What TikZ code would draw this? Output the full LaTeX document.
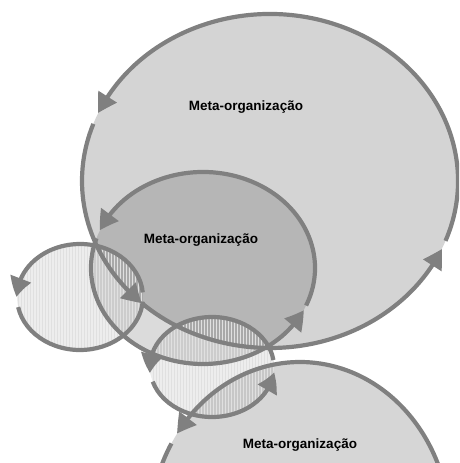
\documentclass[tikz,border=0pt]{standalone}
\usepackage{fontspec}
\setsansfont{Liberation Sans}
\usetikzlibrary{arrows.meta,bending,patterns}

\begin{document}
\begin{tikzpicture}[x=1pt, y=1pt,
        rim/.style={draw=black!50, line width=4.2pt},
        tip/.style={-{Triangle[length=19pt, width=21pt, bend]}},
        lab/.style={font=\sffamily\bfseries\fontsize{13.5}{16}\selectfont, inner sep=0},
        hatch/.style={pattern=vertical lines, pattern color=black!12}]
    \useasboundingbox (0,0) rectangle (459,463);
    \clip (0,0) rectangle (459,463);

    \coordinate (big) at (270,282);
    \coordinate (mid) at (203,195);
    \coordinate (left) at (80,166);
    \coordinate (low) at (212,96);
    \coordinate (bot) at (300,-67);

    % fills
    \fill [black, fill opacity=0.17] (big) ellipse [x radius=188, y radius=167];
    \fill [black, fill opacity=0.14] (mid) ellipse [x radius=112, y radius=96];
    \fill [black, fill opacity=0.16] (bot) ellipse [x radius=150, y radius=168];
    \fill [black, fill opacity=0.07] (left) ellipse [x radius=63, y radius=53];
    \fill [black, fill opacity=0.07] (low) ellipse [x radius=62, y radius=50];
    \fill [hatch] (left) ellipse [x radius=63, y radius=53];
    \fill [hatch] (low) ellipse [x radius=62, y radius=50];

    % top meta-organization
    \draw [rim, tip] (big) ++(-21:188 and 167) arc [start angle=-21, end angle=156, x radius=188, y radius=167];
    \draw [rim, tip] (big) ++(160:188 and 167) arc [start angle=160, end angle=227, x radius=188, y radius=167];
    \draw [rim, tip] (big) ++(227:188 and 167) arc [start angle=227, end angle=336, x radius=188, y radius=167];

    % middle meta-organization
    \draw [rim, tip] (mid) ++(-23:112 and 96) arc [start angle=-23, end angle=157, x radius=112, y radius=96];
    \draw [rim, tip] (mid) ++(162:112 and 96) arc [start angle=162, end angle=334, x radius=112, y radius=96];

    % small organizations
    \draw [rim, tip] (left) ++(5:63 and 53) arc [start angle=5, end angle=180, x radius=63, y radius=53];
    \draw [rim] (left) ++(191:63 and 53) arc [start angle=191, end angle=355, x radius=63, y radius=53];
    \draw [rim, tip] (low) ++(8:62 and 50) arc [start angle=8, end angle=187, x radius=62, y radius=50];
    \draw [rim, tip] (low) ++(197:62 and 50) arc [start angle=197, end angle=354, x radius=62, y radius=50];

    % bottom meta-organization
    \draw [rim, tip] (bot) ++(-10:150 and 168) arc [start angle=-10, end angle=145, x radius=150, y radius=168];
    \draw [rim] (bot) ++(149:150 and 168) arc [start angle=149, end angle=200, x radius=150, y radius=168];

    \node [lab] (t1) at (246,356) {Meta-organização};
    \node [lab] (t2) at (201,223) {Meta-organização};
    \node [lab] (t3) at (300,18) {Meta-organização};
\end{tikzpicture}
\end{document}
